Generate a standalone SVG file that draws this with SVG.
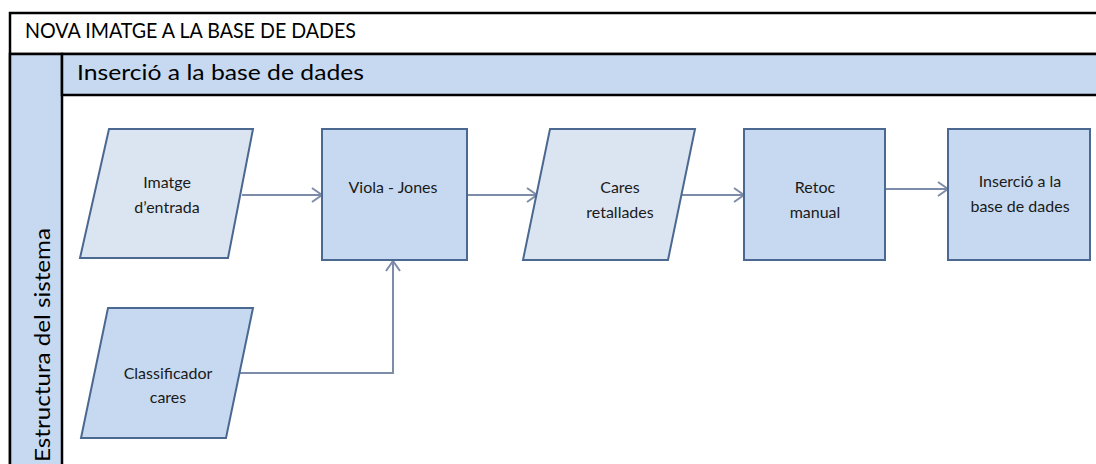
<svg xmlns="http://www.w3.org/2000/svg" width="1096" height="464" viewBox="0 0 1096 464">
  <defs>
    <style>
      .frame { fill: none; stroke: #000; stroke-width: 2.5; }
      .band { fill: #c6d9f0; stroke: #000; stroke-width: 2.5; }
      .io { fill: #dbe5f1; stroke: #4a6890; stroke-width: 2; }
      .io-dark { fill: #c6d9f0; stroke: #4a6890; stroke-width: 2; }
      .proc { fill: #c6d9f0; stroke: #4a6890; stroke-width: 2; }
      .head { font-family: Lato, "Open Sans", "Liberation Sans", sans-serif; font-size: 22px; fill: #000; }
      .lbl { font-family: Lato, "Open Sans", "Liberation Sans", sans-serif; font-size: 16px; fill: #1a1a1a; text-anchor: middle; }
      .conn { fill: none; stroke: #7d8ca8; stroke-width: 2; }
    </style>
    <marker id="arrow" viewBox="0 0 12 16" refX="11" refY="8" markerWidth="12" markerHeight="16" markerUnits="userSpaceOnUse" orient="auto">
      <path d="M1,1 L11,8 L1,15" fill="none" stroke="#7d8ca8" stroke-width="2"/>
    </marker>
  </defs>

  <rect width="1096" height="464" fill="#fff"/>

  <!-- pool frame and title -->
  <g id="pool">
    <rect class="frame" x="10" y="13" width="1100" height="470"/>
    <line x1="10" y1="54" x2="1100" y2="54" stroke="#000" stroke-width="2.5"/>
    <text class="head" x="25" y="38" textLength="331" lengthAdjust="spacingAndGlyphs">NOVA IMATGE A LA BASE DE DADES</text>
  </g>

  <!-- lane labels -->
  <g id="lane">
    <rect class="band" x="10" y="54" width="52" height="430"/>
    <rect class="band" x="62" y="54" width="1050" height="41"/>
    <text class="head" x="77" y="80" textLength="287" lengthAdjust="spacingAndGlyphs">Inserció a la base de dades</text>
    <text class="head" transform="translate(50,462) rotate(-90)" textLength="234" lengthAdjust="spacingAndGlyphs">Estructura del sistema</text>
  </g>

  <!-- connectors -->
  <g id="connectors">
    <line class="conn" x1="242" y1="195" x2="322" y2="195" marker-end="url(#arrow)"/>
    <line class="conn" x1="467" y1="195" x2="537" y2="195" marker-end="url(#arrow)"/>
    <line class="conn" x1="681" y1="195" x2="744" y2="195" marker-end="url(#arrow)"/>
    <line class="conn" x1="885" y1="189" x2="948" y2="189" marker-end="url(#arrow)"/>
    <polyline class="conn" points="240,373 393,373 393,261" marker-end="url(#arrow)"/>
  </g>

  <g id="imatge-entrada">
    <polygon class="io" points="109,129 253,129 228,258 80,258"/>
    <text class="lbl" x="167" y="188">Imatge</text>
    <text class="lbl" x="167" y="213">d’entrada</text>
  </g>

  <g id="viola-jones">
    <rect class="proc" x="322" y="129" width="145" height="131"/>
    <text class="lbl" x="393" y="193">Viola - Jones</text>
  </g>

  <g id="cares-retallades">
    <polygon class="io" points="550,129 695,129 668,260 523,260"/>
    <text class="lbl" x="620" y="193">Cares</text>
    <text class="lbl" x="620" y="218">retallades</text>
  </g>

  <g id="retoc-manual">
    <rect class="proc" x="744" y="129" width="141" height="131"/>
    <text class="lbl" x="815" y="193">Retoc</text>
    <text class="lbl" x="815" y="218">manual</text>
  </g>

  <g id="insercio">
    <rect class="proc" x="948" y="129" width="142" height="131"/>
    <text class="lbl" x="1020" y="187">Inserció a la</text>
    <text class="lbl" x="1020" y="212">base de dades</text>
  </g>

  <g id="classificador-cares">
    <polygon class="io-dark" points="108,308 253,308 226,438 81,438"/>
    <text class="lbl" x="168" y="379">Classificador</text>
    <text class="lbl" x="168" y="403">cares</text>
  </g>
</svg>
